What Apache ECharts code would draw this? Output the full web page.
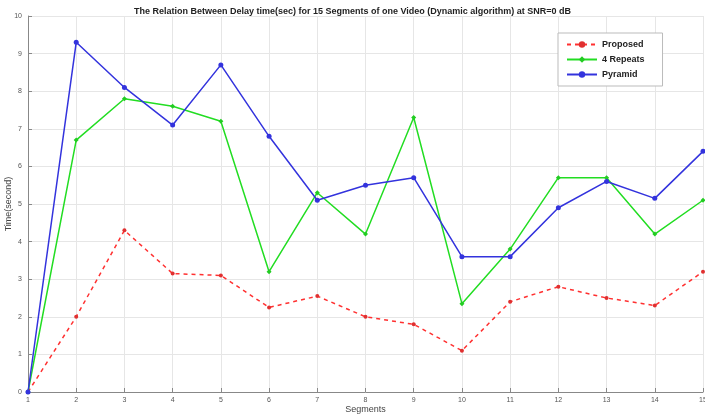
<!DOCTYPE html>
<html><head><meta charset="utf-8">
<script src="https://cdn.jsdelivr.net/npm/echarts@6/dist/echarts.min.js"></script>
<style>html,body{margin:0;padding:0;background:#fff}#c{width:705px;height:419px}</style>
</head><body><div id="c"></div>
<script>
const segments = [1,2,3,4,5,6,7,8,9,10,11,12,13,14,15];
const proposed = [0,2.0,4.3,3.15,3.1,2.25,2.55,2.0,1.8,1.1,2.4,2.8,2.5,2.3,3.2];
const repeats4 = [0,6.7,7.8,7.6,7.2,3.2,5.3,4.2,7.3,2.35,3.8,5.7,5.7,4.2,5.1];
const pyramid  = [0,9.3,8.1,7.1,8.7,6.8,5.1,5.5,5.7,3.6,3.6,4.9,5.6,5.15,6.4];
const yTicks = [0,1,2,3,4,5,6,7,8,9,10];

const pair = a => segments.map((s,i)=>[s,a[i]]);
const chart = echarts.init(document.getElementById('c'));
const font = 'Liberation Sans, Arial, sans-serif';
chart.setOption({
  animation:false,
  title:{text:'The Relation Between Delay time(sec) for 15 Segments of one Video (Dynamic algorithm) at SNR=0 dB',
    left:'center', top:2, textStyle:{fontSize:9, fontWeight:'bold', color:'#222', fontFamily:font}},
  legend:{left:558, top:33, orient:'vertical', itemGap:6, itemWidth:30, itemHeight:8,
    backgroundColor:'#fff', borderColor:'#bbb', borderWidth:1, padding:[7,18,7,8],
    textStyle:{fontSize:9, fontWeight:'bold', color:'#222', fontFamily:font},
    data:['Proposed','4 Repeats','Pyramid']},
  grid:{left:28, right:2, top:16, bottom:27, containLabel:false, outerBoundsMode:'none'},
  xAxis:{type:'value', min:1, max:15, interval:1, name:'Segments', nameLocation:'middle', nameGap:13,
    nameMoveOverlap:false,
    nameTextStyle:{fontSize:9, color:'#444', fontFamily:font},
    axisLine:{lineStyle:{color:'#888'}}, axisTick:{inside:true, length:4, lineStyle:{color:'#888'}},
    axisLabel:{fontSize:7, color:'#555', margin:5, fontFamily:font},
    splitLine:{show:true, lineStyle:{color:'#e6e6e6'}}},
  yAxis:{type:'value', min:0, max:10, interval:1, name:'Time(second)', nameLocation:'middle', nameGap:15,
    nameMoveOverlap:false,
    nameTextStyle:{fontSize:9, color:'#444', fontFamily:font},
    axisLine:{show:true, lineStyle:{color:'#888'}}, axisTick:{show:true, inside:true, length:4, lineStyle:{color:'#888'}},
    axisLabel:{fontSize:7, color:'#555', margin:6, fontFamily:font, formatter:v=>yTicks.includes(v)?String(v):''},
    splitLine:{show:true, lineStyle:{color:'#e6e6e6'}}},
  series:[
    {name:'Proposed', type:'line', data:pair(proposed), symbol:'circle', symbolSize:4,
      lineStyle:{color:'#ff3030', width:1.5, type:[4,4]}, itemStyle:{color:'#e03030'}},
    {name:'4 Repeats', type:'line', data:pair(repeats4), symbol:'diamond', symbolSize:5,
      lineStyle:{color:'#22dd22', width:1.5}, itemStyle:{color:'#22cc22'}},
    {name:'Pyramid', type:'line', data:pair(pyramid), symbol:'circle', symbolSize:5,
      lineStyle:{color:'#3333dd', width:1.5}, itemStyle:{color:'#3333dd'}}
  ]
});
</script></body></html>
